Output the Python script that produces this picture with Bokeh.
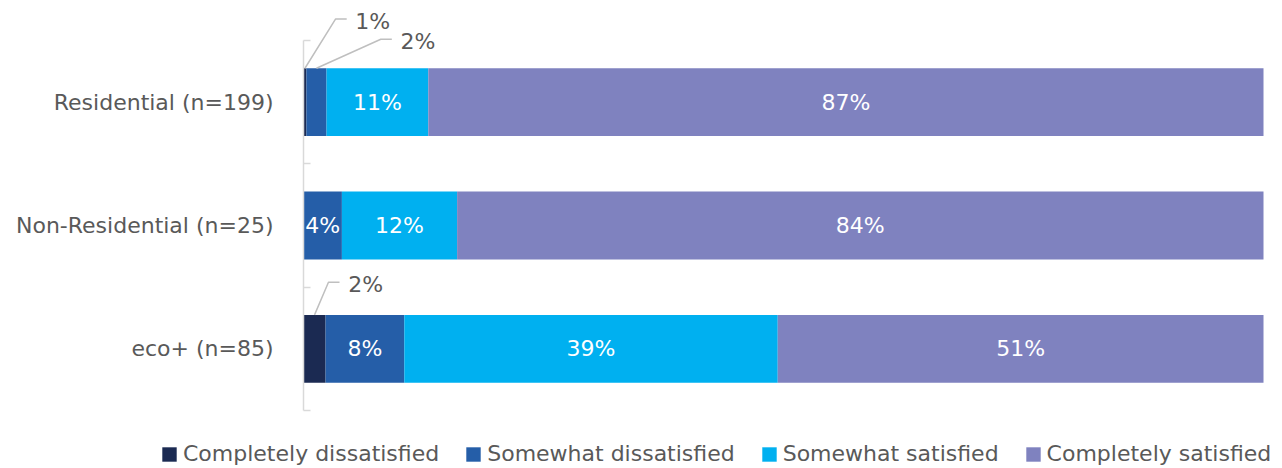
from bokeh.plotting import figure
from bokeh.models import ColumnDataSource, Range1d, FixedTicker, Legend, LegendItem
from bokeh.core.properties import value
from bokeh.embed import file_html
from bokeh.resources import INLINE

categories = ["Residential (n=199)", "Non-Residential (n=25)", "eco+ (n=85)"]
series = ["Completely dissatisfied", "Somewhat dissatisfied", "Somewhat satisfied", "Completely satisfied"]
completely_dissatisfied = [0.3, 0.0, 2.3]
somewhat_dissatisfied = [2.1, 4.0, 8.2]
somewhat_satisfied = [10.6, 12.0, 38.9]
completely_satisfied = [87.0, 84.0, 50.6]
labels_cd = ["1%", "", "2%"]
labels_sd = ["2%", "4%", "8%"]
labels_ss = ["11%", "12%", "39%"]
labels_cs = ["87%", "84%", "51%"]

values = [completely_dissatisfied, somewhat_dissatisfied, somewhat_satisfied, completely_satisfied]
labels = [labels_cd, labels_sd, labels_ss, labels_cs]
colors = ["#1B2A52", "#255EA8", "#00B0F0", "#7F82BF"]

FONT = "DejaVu Sans"
FS = "22px"
BAR_H = 0.55
# callout styling: (series index, row index) -> (dx to elbow, dy to elbow)
callout_offsets = {(0, 0): (3.2, -0.40), (1, 0): (6.7, -0.235), (0, 2): (1.45, -0.265)}
TAIL = 1.15
GAP = 0.9

W, H = 1282, 468
PX_X = 9.6        # pixels per percent
PX_Y = 123.333    # pixels per category band
X0, Y0 = 303, 40  # where 0% and the top of the first band sit
p = figure(width=W, height=H, output_backend="svg", toolbar_location=None,
           x_range=Range1d(-X0 / PX_X, (W - X0) / PX_X),
           y_range=Range1d((H - Y0) / PX_Y, -Y0 / PX_Y),
           min_border_left=0, min_border_right=0, min_border_top=0, min_border_bottom=0)
p.outline_line_color = None
p.xgrid.visible = False
p.ygrid.visible = False
p.xaxis.visible = False

ys = [i + 0.5 for i in range(len(categories))]
starts = [0.0] * len(categories)
legend_items = []
in_x, in_y, in_t = [], [], []
co_xs, co_ys, co_tx, co_ty, co_t = [], [], [], [], []
for s, (name, vals, labs, col) in enumerate(zip(series, values, labels, colors)):
    left = list(starts)
    right = [a + b for a, b in zip(starts, vals)]
    src = ColumnDataSource(dict(y=ys, left=left, right=right))
    r = p.hbar(y="y", left="left", right="right", height=BAR_H, source=src,
               fill_color=col, line_color=None)
    legend_items.append(LegendItem(label=name, renderers=[r]))
    for i, (v, lab) in enumerate(zip(vals, labs)):
        if not lab:
            continue
        cx = left[i] + v / 2
        if v >= 3:
            in_x.append(cx); in_y.append(ys[i]); in_t.append(lab)
        else:
            dx, dy = callout_offsets[(s, i)]
            ay = ys[i] - BAR_H / 2
            ex, ey = cx + dx, ay + dy
            co_xs.append([cx, ex, ex + TAIL]); co_ys.append([ay, ey, ey])
            co_tx.append(ex + TAIL + GAP); co_ty.append(ey + 0.02); co_t.append(lab)
    starts = right

p.text(x=in_x, y=in_y, text=in_t, text_color="white", text_font=value(FONT),
       text_font_size=FS, text_align="center", text_baseline="middle")
p.multi_line(xs=co_xs, ys=co_ys, line_color="#BFBFBF", line_width=1.5)
p.text(x=co_tx, y=co_ty, text=co_t, text_color="#595959", text_font=value(FONT),
       text_font_size=FS, text_align="left", text_baseline="middle")

yax = p.yaxis[0]
yax.fixed_location = 0
yax.ticker = FixedTicker(ticks=ys, minor_ticks=[0, 1, 2, 3])
yax.major_label_overrides = {y: c for y, c in zip(ys, categories)}
yax.bounds = (0, 3)
yax.axis_line_color = "#D9D9D9"
yax.axis_line_width = 1.5
yax.major_tick_line_color = None
yax.minor_tick_line_color = "#D9D9D9"
yax.minor_tick_line_width = 1.5
yax.minor_tick_in = 7
yax.minor_tick_out = 0
yax.major_label_standoff = 24
yax.major_label_text_font = FONT
yax.major_label_text_font_size = FS
yax.major_label_text_color = "#595959"

legend = Legend(items=legend_items, orientation="horizontal", location=(160, 2),
                label_text_font=FONT, label_text_font_size=FS, label_text_color="#595959",
                glyph_width=18, glyph_height=18, label_standoff=5, spacing=25,
                padding=0, margin=0, border_line_alpha=0, background_fill_alpha=0)
p.add_layout(legend)

open("out.html", "w").write(file_html(p, INLINE))
